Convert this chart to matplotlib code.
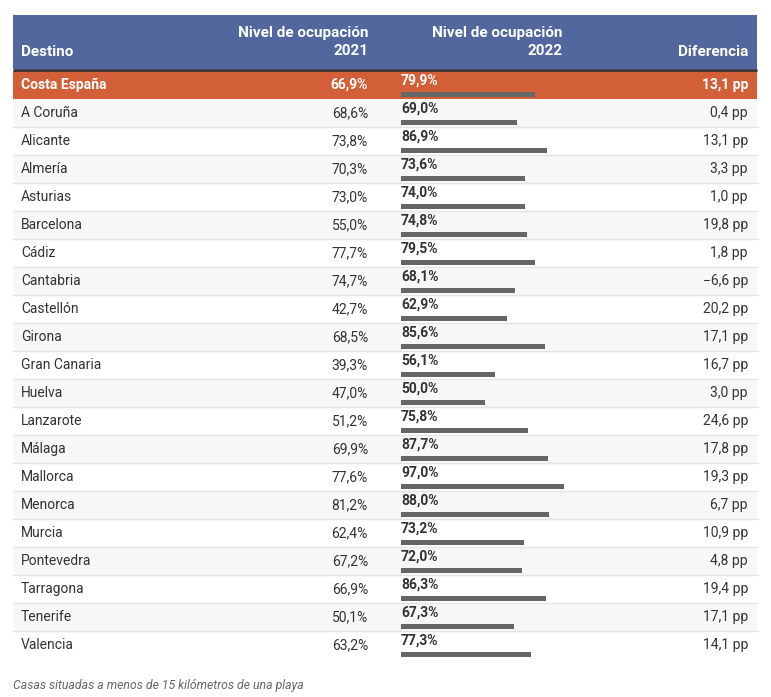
import matplotlib.pyplot as plt
from matplotlib.patches import Rectangle

plt.rcParams['font.family'] = ['Roboto', 'DejaVu Sans']

destinos = ['Costa España', 'A Coruña', 'Alicante', 'Almería', 'Asturias', 'Barcelona',
            'Cádiz', 'Cantabria', 'Castellón', 'Girona', 'Gran Canaria', 'Huelva',
            'Lanzarote', 'Málaga', 'Mallorca', 'Menorca', 'Murcia', 'Pontevedra',
            'Tarragona', 'Tenerife', 'Valencia']
ocup_2021 = [66.9, 68.6, 73.8, 70.3, 73.0, 55.0, 77.7, 74.7, 42.7, 68.5, 39.3, 47.0,
             51.2, 69.9, 77.6, 81.2, 62.4, 67.2, 66.9, 50.1, 63.2]
ocup_2022 = [79.9, 69.0, 86.9, 73.6, 74.0, 74.8, 79.5, 68.1, 62.9, 85.6, 56.1, 50.0,
             75.8, 87.7, 97.0, 88.0, 73.2, 72.0, 86.3, 67.3, 77.3]
diferencia = [13.1, 0.4, 13.1, 3.3, 1.0, 19.8, 1.8, -6.6, 20.2, 17.1, 16.7, 3.0,
              24.6, 17.8, 19.3, 6.7, 10.9, 4.8, 19.4, 17.1, 14.1]
nota = 'Casas situadas a menos de 15 kilómetros de una playa'

W, H = 771, 697
BLUE = '#52679e'
ORANGE = '#d35f39'
BAR = '#666666'
TXT = '#333333'


def fmt(v, dec=1):
    s = f'{abs(v):.{dec}f}'.replace('.', ',')
    return ('\u2212' + s) if v < 0 else s


fig = plt.figure(figsize=(W / 100, H / 100), dpi=100)
ax = fig.add_axes([0, 0, 1, 1])
ax.set_xlim(0, W)
ax.set_ylim(H, 0)
ax.axis('off')

left, right = 13, 757
head_top, head_bot = 15, 69
row0, row_h = 71, 28

# cabecera
ax.add_patch(Rectangle((left, head_top), right - left, head_bot - head_top, color=BLUE, lw=0))
ax.plot([left, right], [70, 70], color='#333333', lw=2, solid_capstyle='butt')
hkw = dict(color='white', fontsize=11, fontweight='bold', va='center')
ax.text(21, 52, 'Destino', ha='left', **hkw)
ax.text(368, 33, 'Nivel de ocupación', ha='right', **hkw)
ax.text(368, 51, '2021', ha='right', **hkw)
ax.text(563, 33, 'Nivel de ocupación', ha='right', **hkw)
ax.text(563, 51, '2022', ha='right', **hkw)
ax.text(748, 52, 'Diferencia', ha='right', **hkw)

# filas
n = len(destinos)
for i in range(n):
    top = row0 + i * row_h
    if i == 0:
        fc = ORANGE
    elif i % 2 == 1:
        fc = '#f7f7f7'
    else:
        fc = 'white'
    ax.add_patch(Rectangle((left, top), right - left, row_h, color=fc, lw=0))
    if 0 < i < n - 1:
        ax.plot([left, right], [top + row_h - 0.5] * 2, color='#e4e4e4', lw=1)
    cy = top + row_h / 2
    if i == 0:
        kw = dict(color='white', fontsize=10, fontweight='bold', va='center')
        kw22 = kw
    else:
        kw = dict(color=TXT, fontsize=10, va='center')
        kw22 = dict(color=TXT, fontsize=10, fontweight='bold', va='center')
    ax.text(21, cy, destinos[i], ha='left', **kw)
    ax.text(368, cy, fmt(ocup_2021[i]) + '%', ha='right', **kw)
    ax.text(401, top + 10, fmt(ocup_2022[i]) + '%', ha='left', **kw22)
    ax.text(748, cy, fmt(diferencia[i]) + ' pp', ha='right', **kw)

# barras 2022 (escala 0-100 %)
bx0, bx1 = 401, 401 + 168
by0, by1 = row0, row0 + n * row_h
axb = fig.add_axes([bx0 / W, 1 - by1 / H, (bx1 - bx0) / W, (by1 - by0) / H])
axb.set_xlim(0, 100)
axb.set_ylim(n, 0)
axb.axis('off')
axb.patch.set_alpha(0)
axb.barh([i + 0.83 for i in range(n)], ocup_2022, height=0.18, color=BAR, left=0)

ax.text(13, 685, nota, ha='left', va='center', fontsize=8.8, style='italic', color='#666666')

fig.savefig('out.png', dpi=100)
